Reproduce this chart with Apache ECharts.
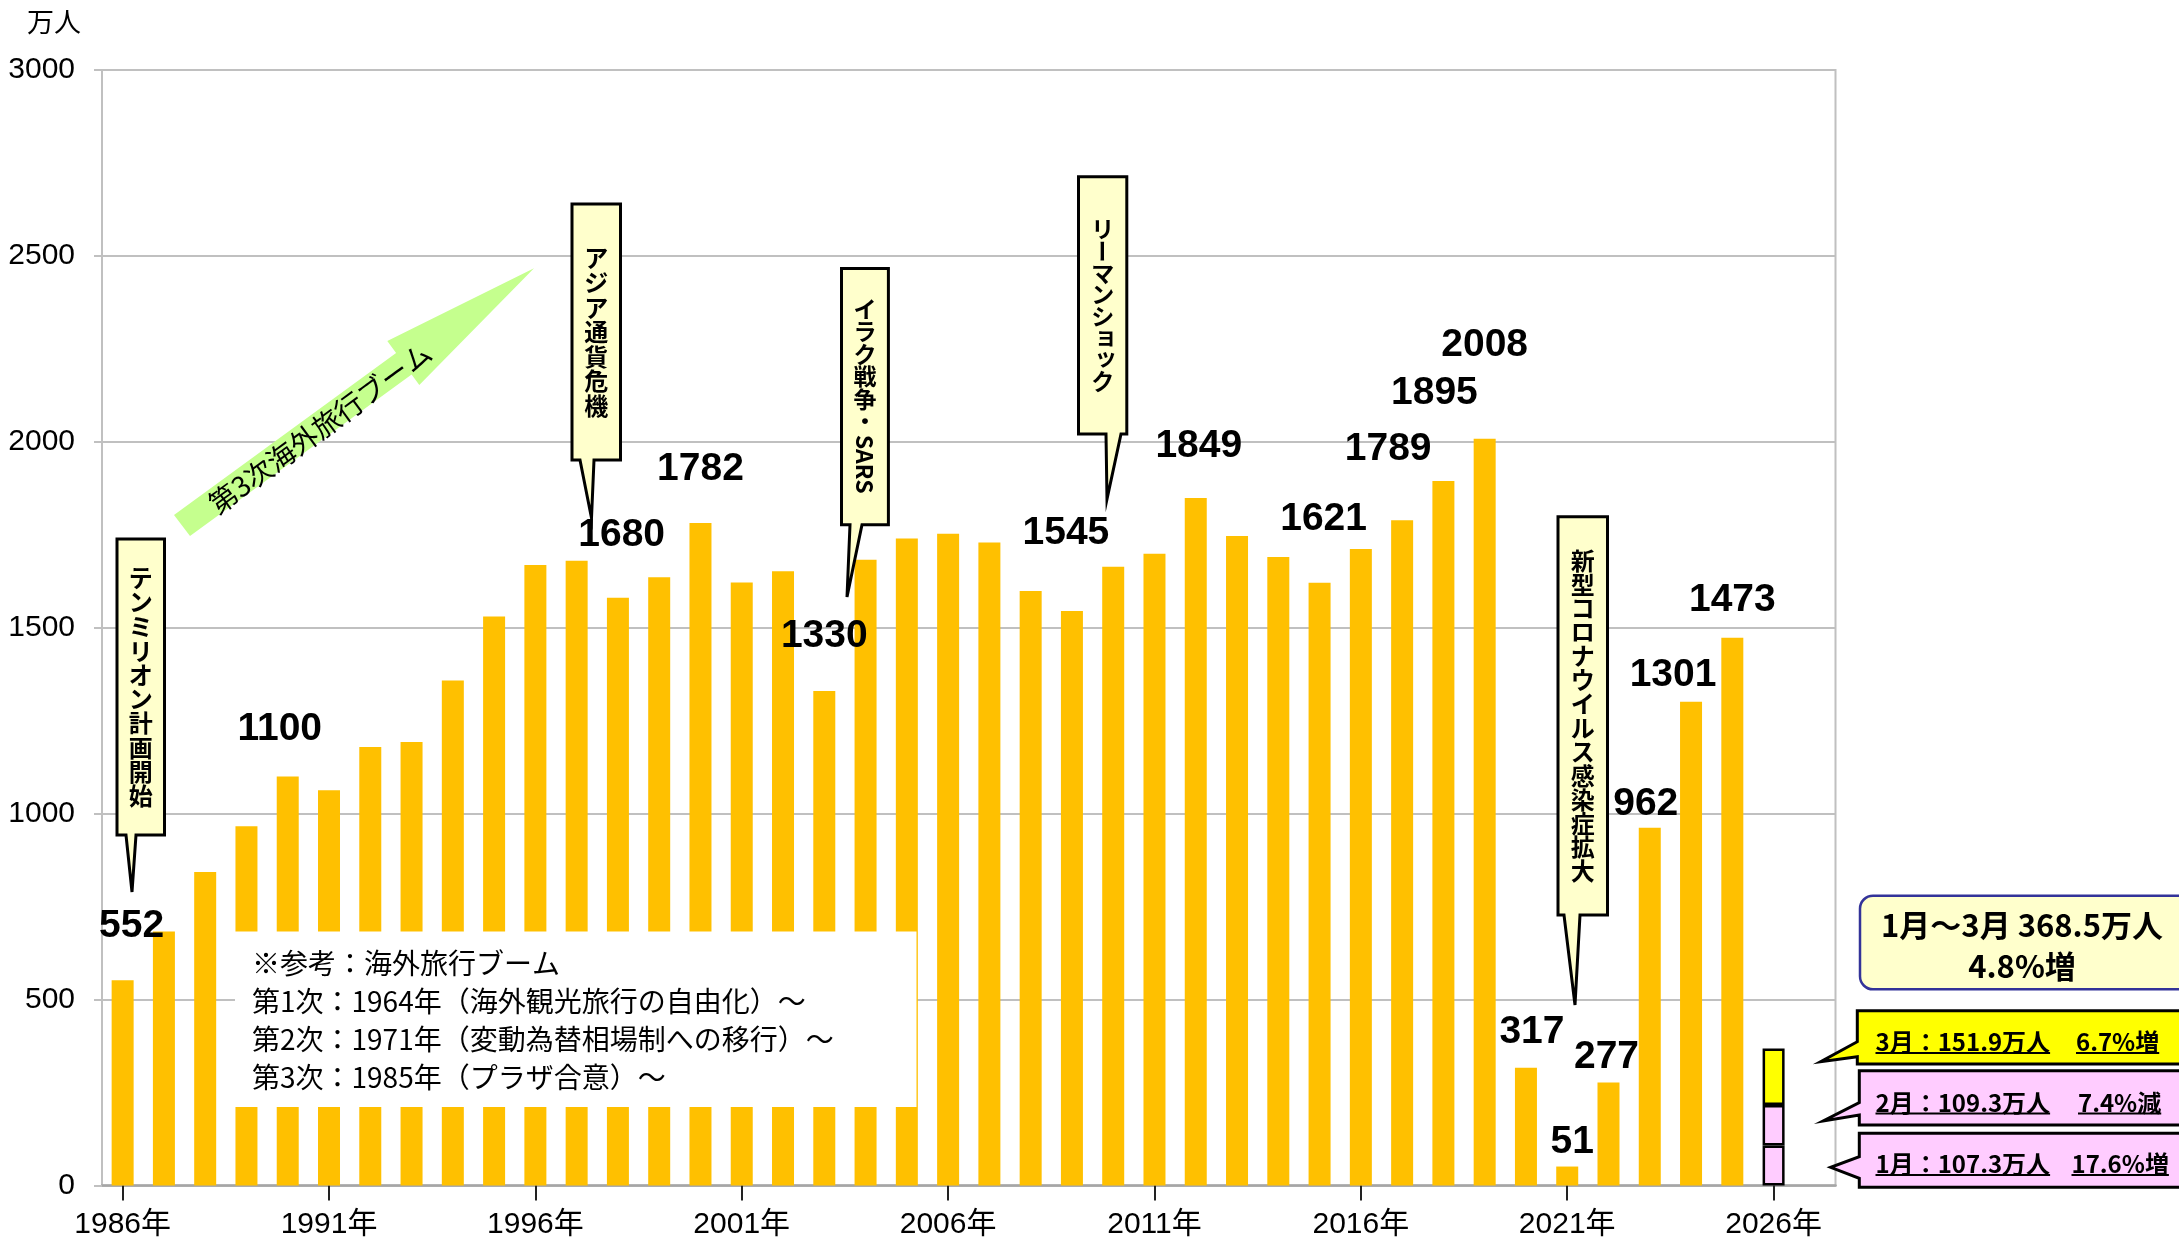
<!DOCTYPE html>
<html><head><meta charset="utf-8">
<script src="https://cdn.jsdelivr.net/npm/echarts@6/dist/echarts.min.js"></script>
<style>html,body{margin:0;padding:0;background:#fff}#c{width:2179px;height:1247px}</style>
</head><body><div id="c"></div>
<script>
// ---------------- DATA ----------------
const categories = ['1986年','1987年','1988年','1989年','1990年','1991年','1992年','1993年','1994年','1995年',
  '1996年','1997年','1998年','1999年','2000年','2001年','2002年','2003年','2004年','2005年',
  '2006年','2007年','2008年','2009年','2010年','2011年','2012年','2013年','2014年','2015年',
  '2016年','2017年','2018年','2019年','2020年','2021年','2022年','2023年','2024年','2025年',
  '2026年',''];
const annualValues = [552,683,843,966,1100,1063,1179,1193,1358,1530,
  1669,1680,1581,1636,1782,1622,1652,1330,1683,1740,
  1753,1729,1599,1545,1664,1699,1849,1747,1690,1621,
  1712,1789,1895,2008,317,51,277,962,1301,1473];
const monthNames = ['1月','2月','3月'];
const monthValues2026 = [107.3,109.3,151.9];
const yMin = 0, yMax = 3000, yInterval = 500;

// ---------------- STYLE / LAYOUT ----------------
const monthColors = ['#FFCCFF','#FFCCFF','#FFFF00'];
// value label offsets [dx, dy] relative to top-centre of the bar
const valueLabelOffsets = {
  '1986年':[9,-54], '1990年':[-8,-47], '1997年':[45,-26], '2000年':[0,-54], '2003年':[0,-55],
  '2009年':[-6,-78], '2012年':[3,-52], '2015年':[4,-64], '2017年':[-14,-71], '2018年':[-9,-88],
  '2019年':[0,-94], '2020年':[6,-35], '2021年':[5,-24], '2022年':[-2,-25], '2023年':[-4,-24],
  '2024年':[-18,-26], '2025年':[0,-38]
};
const FONT_LATIN = '"Liberation Sans", Arial, "Noto Sans CJK JP", sans-serif';
const JP = '"Noto Sans CJK JP", sans-serif';

const mctx = document.createElement('canvas').getContext('2d');
function measure(t, font){ mctx.font = font; return mctx.measureText(t).width; }

const annualData = categories.map((c,i) => {
  if (i >= annualValues.length) return '-';
  const off = valueLabelOffsets[c];
  return off ? {value: annualValues[i], label:{show:true, offset:off}}
             : {value: annualValues[i], label:{show:false}};
});
const idx2026 = categories.indexOf('2026年');
const monthSeries = monthNames.map((m,k)=>({
  name:'2026年'+m, type:'bar', stack:'total', barWidth:22,
  data: categories.map((c,i)=> i===idx2026 ? monthValues2026[k] : '-'),
  itemStyle:{color:monthColors[k], borderColor:'#000', borderWidth:2.5},
  label:{show:false}, z:3
}));

// ---------------- ANNOTATIONS ----------------
const callouts = [
  {text:'テンミリオン計画開始', box:[117,539,164.5,835], tail:[126,136,132,892], pitch:24.2, fs:24},
  {text:'アジア通貨危機', box:[572,204,620.5,460], tail:[580,594,591.5,518], pitch:24.6, fs:24},
  {text:'イラク戦争・SARS', box:[841.5,268.6,888.4,524.7], tail:[850,862,847,597], pitch:22.5, fs:23},
  {text:'リーマンショック', box:[1078.5,176.7,1126.8,434], tail:[1106,1121,1107,499], pitch:21.7, fs:23},
  {text:'新型コロナウイルス感染症拡大', box:[1558,516.7,1607.5,915], tail:[1564,1580,1575,1005], pitch:23.9, fs:24}
];
function verticalCallout(c){
  const [x1,y1,x2,y2] = c.box; const [b1,b2,tx,ty] = c.tail;
  const els = [{type:'polygon', z:100, shape:{points:[[x1,y1],[x2,y1],[x2,y2],[b2,y2],[tx,ty],[b1,y2],[x1,y2]]},
    style:{fill:'#FFFFCC', stroke:'#000', lineWidth:3, lineJoin:'miter'}}];
  const tokens = c.text.match(/[A-Za-z]+|./gu);
  const font = 'bold ' + c.fs + 'px ' + JP;
  const lens = tokens.map(t => /^[A-Za-z]+$/.test(t) ? measure(t, font) + 4 : c.pitch);
  const total = lens.reduce((a,b)=>a+b,0);
  let y = (y1+y2)/2 - total/2; const cx = (x1+x2)/2;
  tokens.forEach((t,i)=>{
    const cy = y + lens[i]/2; let rot = 0, dx = 0, dy = 0;
    if (/^[A-Za-z]+$/.test(t)) rot = -Math.PI/2;
    else if (t === 'ー') rot = Math.PI/2;
    else if ('ョッャュァィゥェォ'.includes(t)) { dx = 3; dy = -3; }
    els.push({type:'text', z:101, x:cx+dx, y:cy+dy, rotation:rot,
      style:{text:t, font:font, fill:'#000', align:'center', verticalAlign:'middle', textAlign:'center', textVerticalAlign:'middle'}});
    y += lens[i];
  });
  return els;
}

const noteLines = ['※参考：海外旅行ブーム','第1次：1964年（海外観光旅行の自由化）～','第2次：1971年（変動為替相場制への移行）～','第3次：1985年（プラザ合意）～'];
const noteY = [963.3,1001.7,1039.3,1077.7];

const monthBoxes = [
  {left:'3月：151.9万人', right:'6.7%増', fill:'#FFFF00', box:[1857.3,1010.7,1064], tail:[1041.7,1820.7,1061.7,1056.7], ty:1042, rx:2076},
  {left:'2月：109.3万人', right:'7.4%減', fill:'#FFCCFF', box:[1859.3,1070.7,1125], tail:[1102.7,1823.3,1121,1115], ty:1102.5, rx:2078},
  {left:'1月：107.3万人', right:'17.6%増', fill:'#FFCCFF', box:[1859.3,1133.3,1187.3], tail:[1156.7,1830.7,1167.3,1178.3], ty:1164, rx:2071.5}
];

const graphics = [];
graphics.push({type:'text', z:100, x:27, y:22, style:{text:'万人', font:'27px '+JP, fill:'#000', align:'left', verticalAlign:'middle', textAlign:'left', textVerticalAlign:'middle'}});
// green arrow
graphics.push({type:'polygon', z:100, shape:{points:[[174,515],[396.1,353.1],[387.3,341],[534,268.3],[419.3,385],[411.6,374.5],[190,536]]},
  style:{fill:'#C5FF8E', stroke:null}});
graphics.push({type:'text', z:101, x:320, y:428, rotation:0.632,
  style:{text:'第3次海外旅行ブーム', font:'28px '+JP, fill:'#000', align:'center', verticalAlign:'middle', textAlign:'center', textVerticalAlign:'middle'}});
callouts.forEach(c => verticalCallout(c).forEach(e => graphics.push(e)));
// note box
graphics.push({type:'rect', z:100, shape:{x:235, y:931.5, width:681.5, height:175.5}, style:{fill:'#fff', stroke:null}});
noteLines.forEach((t,i)=> graphics.push({type:'text', z:101, x:252, y:noteY[i],
  style:{text:t, font:'28px '+JP, fill:'#000', align:'left', verticalAlign:'middle', textAlign:'left', textVerticalAlign:'middle'}}));
// total box
graphics.push({type:'rect', z:100, shape:{x:1860, y:895.7, width:340, height:93.6, r:13}, style:{fill:'#FFFFCC', stroke:'#333399', lineWidth:2.5}});
graphics.push({type:'text', z:101, x:2022, y:925, style:{text:'1月～3月 368.5万人', font:'bold 31px '+JP, fill:'#000', align:'center', verticalAlign:'middle', textAlign:'center', textVerticalAlign:'middle'}});
graphics.push({type:'text', z:101, x:2022, y:966, style:{text:'4.8%増', font:'bold 31px '+JP, fill:'#000', align:'center', verticalAlign:'middle', textAlign:'center', textVerticalAlign:'middle'}});
// month callouts
monthBoxes.forEach(b=>{
  const [x1,y1,y2] = b.box; const [ua,tx,ty,la] = b.tail;
  graphics.push({type:'polygon', z:100, shape:{points:[[x1,y1],[2200,y1],[2200,y2],[x1,y2],[x1,la],[tx,ty],[x1,ua]]},
    style:{fill:b.fill, stroke:'#000', lineWidth:3, lineJoin:'miter'}});
  const font = 'bold 24px ' + JP;
  [[b.left,1875.5],[b.right,b.rx]].forEach(([t,x])=>{
    graphics.push({type:'text', z:101, x:x, y:b.ty, style:{text:t, font:font, fill:'#000', align:'left', verticalAlign:'middle', textAlign:'left', textVerticalAlign:'middle'}});
    const w = measure(t, font);
    graphics.push({type:'line', z:101, shape:{x1:x, y1:b.ty+11, x2:x+w, y2:b.ty+11}, style:{stroke:'#000', lineWidth:2}});
  });
});

// ---------------- CHART ----------------
const chart = echarts.init(document.getElementById('c'), null, {renderer:'canvas'});
chart.setOption({
  animation:false,
  backgroundColor:'#fff',
  grid:{left:102, right:343.5, top:70, bottom:61.5, show:true, borderColor:'#c0c0c0', borderWidth:2, backgroundColor:'transparent'},
  xAxis:{type:'category', data:categories,
    axisLine:{show:true, lineStyle:{color:'#a6a6a6', width:2.5}},
    axisTick:{show:true, interval:4, alignWithLabel:true, length:15, lineStyle:{color:'#222', width:2}},
    axisLabel:{interval:4, fontSize:30, margin:24, color:'#000', fontFamily:FONT_LATIN},
    splitLine:{show:false}},
  yAxis:{type:'value', min:yMin, max:yMax, interval:yInterval,
    axisLine:{show:true, lineStyle:{color:'#c0c0c0', width:2}},
    axisTick:{show:true, length:8, lineStyle:{color:'#c0c0c0', width:2}},
    axisLabel:{fontSize:30, margin:27, color:'#000', fontFamily:FONT_LATIN, formatter: v => String(v)},
    splitLine:{show:true, lineStyle:{color:'#c0c0c0', width:2}}},
  series:[
    {name:'出国日本人数', type:'bar', stack:'total', barWidth:22, data:annualData,
      itemStyle:{color:'#FFC000'},
      label:{position:'top', distance:0, align:'center', verticalAlign:'middle',
        fontFamily:FONT_LATIN, fontWeight:'bold', fontSize:39, color:'#000'}, z:2},
    ...monthSeries
  ],
  graphic:{elements:graphics}
});
</script>
</body></html>
